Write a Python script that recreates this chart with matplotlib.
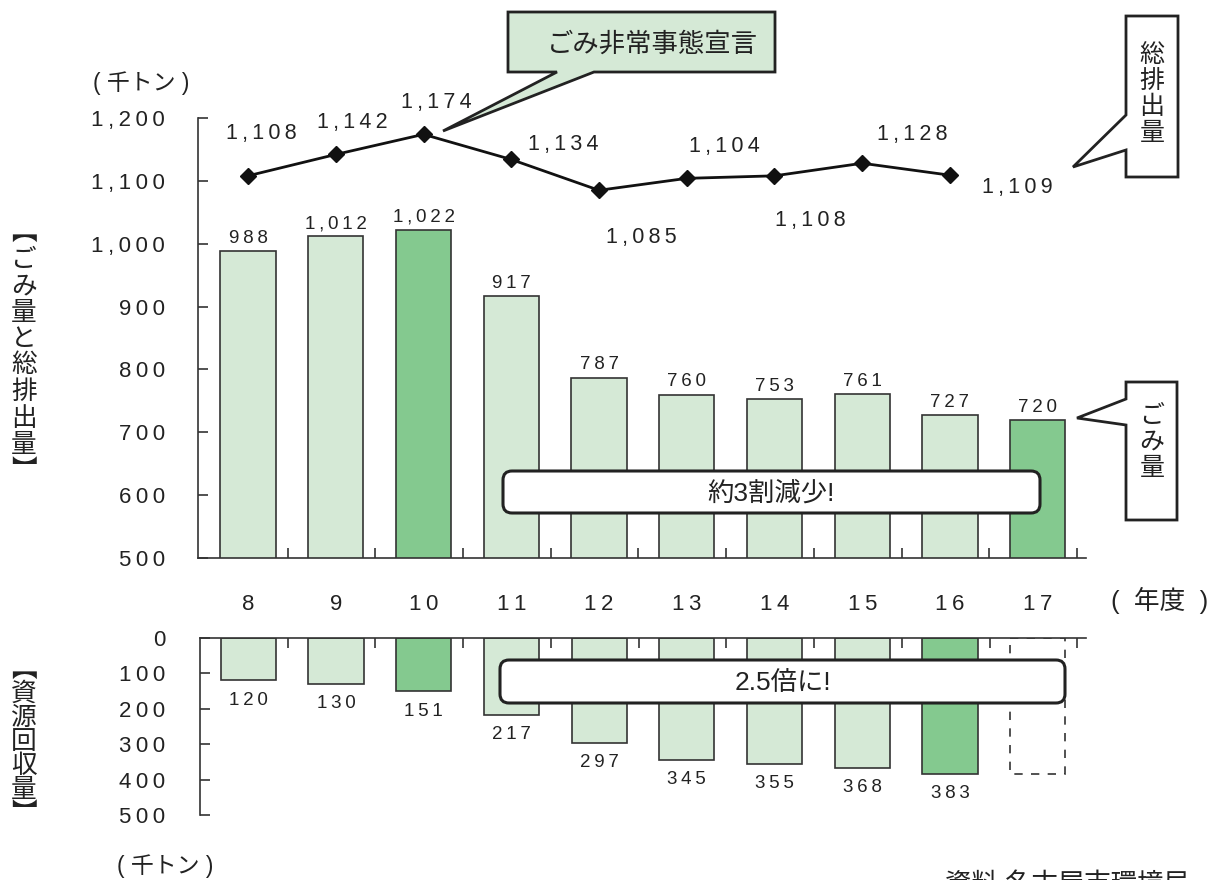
import matplotlib
matplotlib.use("Agg")
import matplotlib.pyplot as plt
import matplotlib.transforms as mtransforms
from matplotlib.patches import Polygon, FancyBboxPatch
from matplotlib.ticker import FixedLocator

plt.rcParams['font.family'] = ['Liberation Sans', 'Noto Sans CJK JP', 'DejaVu Sans']

# data (千トン)
years = [8, 9, 10, 11, 12, 13, 14, 15, 16, 17]
gomi = [988, 1012, 1022, 917, 787, 760, 753, 761, 727, 720]
line_years = [8, 9, 10, 11, 12, 13, 14, 15, 16]
total = [1108, 1142, 1174, 1134, 1085, 1104, 1108, 1128, 1109]
recycle_years = [8, 9, 10, 11, 12, 13, 14, 15, 16]
recycle = [120, 130, 151, 217, 297, 345, 355, 368, 383]
top_ticks = [500, 600, 700, 800, 900, 1000, 1100, 1200]
bot_ticks = [0, 100, 200, 300, 400, 500]

# label offsets for the line (pixels, dx right, dy down)
line_off = [(13, -42), (17, -32), (13, -32), (52, -15), (42, 47),
            (38, -32), (36, 45), (50, -29), (67, 12)]

light = '#d5e9d6'
dark = '#84c98f'
edge = '#333333'
ink = '#222222'

W, H = 1219, 880
fig = plt.figure(figsize=(W / 100, H / 100), dpi=100)
px = mtransforms.Affine2D().scale(0.01, -0.01).translate(0, H / 100) + fig.dpi_scale_trans


def sp(s):
    # wide letter spacing like the original
    return '\u2009'.join(s)


def num(v):
    return sp(f'{v:,}')


def vtext(x, y0, s, step, size):
    # vertical writing, one character per row
    for i, ch in enumerate(s):
        fig.text(x, y0 + i * step, ch, transform=px, ha='center', va='center',
                 fontsize=size, color=ink, zorder=7)


ax1 = fig.add_axes([198 / W, 1 - 558 / H, (1086 - 198) / W, (558 - 118) / H])
ax2 = fig.add_axes([200 / W, 1 - 815 / H, (1086 - 200) / W, (815 - 638) / H])

# --- top: ごみ量 bars + 総排出量 line
cols = [dark if y in (10, 17) else light for y in years]
ax1.bar(years, gomi, width=0.63, color=cols, edgecolor=edge, linewidth=1.2)
for y, v in zip(years, gomi):
    ax1.annotate(num(v), (y, v), xytext=(0, 3), textcoords='offset points',
                 ha='center', va='bottom', fontsize=13.5, color=ink)

ax1.plot(line_years, total, color='#111111', lw=2, marker='D', ms=8, zorder=4)
for y, v, (dx, dy) in zip(line_years, total, line_off):
    ax1.annotate(num(v), (y, v), xytext=(dx * 0.72, -dy * 0.72), textcoords='offset points',
                 ha='center', va='center', fontsize=15.5, color=ink)

ax1.set_xlim(7.43, 17.55)
ax1.set_ylim(500, 1200)
ax1.spines[['top', 'right']].set_visible(False)
ax1.spines[['left', 'bottom']].set_color(edge)
ax1.spines[['left', 'bottom']].set_linewidth(1.2)
ax1.set_yticks(top_ticks)
ax1.set_yticklabels([num(t) for t in top_ticks])
ax1.tick_params(axis='y', direction='in', length=7, width=1.2, color=edge, pad=24,
                labelsize=16, labelcolor=ink)
ax1.set_xticks(years)
ax1.set_xticklabels([sp(str(y)) for y in years])
ax1.tick_params(axis='x', which='major', length=0, pad=26, labelsize=16, labelcolor=ink)
ax1.xaxis.set_minor_locator(FixedLocator([y + 0.45 for y in years]))
ax1.tick_params(axis='x', which='minor', direction='in', length=7, width=1.2, color=edge)

# --- bottom: 資源回収量 (downward)
cols2 = [dark if y in (10, 16) else light for y in recycle_years]
ax2.bar(recycle_years, recycle, width=0.63, color=cols2, edgecolor=edge, linewidth=1.2)
for y, v in zip(recycle_years, recycle):
    ax2.annotate(sp(str(v)), (y, v), xytext=(0, -8), textcoords='offset points',
                 ha='center', va='top', fontsize=13.5, color=ink)
# 17年度 placeholder (no data yet)
ax2.bar([17], [recycle[-1]], width=0.63, fill=False, edgecolor=edge, linewidth=1.2,
        linestyle=(0, (5, 5)))

ax2.set_xlim(7.45, 17.55)
ax2.set_ylim(500, 0)
ax2.spines[['bottom', 'right']].set_visible(False)
ax2.spines[['left', 'top']].set_color(edge)
ax2.spines[['left', 'top']].set_linewidth(1.2)
ax2.set_yticks(bot_ticks)
ax2.set_yticklabels([sp(str(t)) for t in bot_ticks])
ax2.tick_params(axis='y', direction='in', length=7, width=1.2, color=edge, pad=25,
                labelsize=16, labelcolor=ink)
ax2.set_xticks([])
ax2.xaxis.set_minor_locator(FixedLocator([y + 0.45 for y in years]))
ax2.tick_params(axis='x', which='minor', direction='in', length=7, width=1.2, color=edge,
                top=True, bottom=False)


# --- annotations (pixel layout)
def callout(pts, fc):
    fig.add_artist(Polygon(pts, closed=True, transform=px, facecolor=fc, edgecolor=ink,
                           linewidth=2, zorder=6))


callout([(508, 12), (775, 12), (775, 72), (594, 72), (443, 131), (557, 72), (508, 72)], light)
fig.text(652, 44, 'ごみ非常事態宣言', transform=px, ha='center', va='center',
         fontsize=19, color=ink, zorder=7)

callout([(1126, 16), (1178, 16), (1178, 177), (1126, 177), (1126, 150), (1073, 167),
         (1126, 115)], 'white')
vtext(1152, 55, '総排出量', 26, 18)

callout([(1126, 382), (1177, 382), (1177, 520), (1126, 520), (1126, 425), (1077, 418),
         (1126, 399)], 'white')
vtext(1152, 416, 'ごみ量', 26, 18)

for x0, y0, x1, y1, s in [(503, 471, 1040, 513, '約3割減少!'), (500, 660, 1065, 703, '2.5倍に!')]:
    fig.add_artist(FancyBboxPatch((x0, y0), x1 - x0, y1 - y0, transform=px,
                                  boxstyle='round,pad=0,rounding_size=9', facecolor='white',
                                  edgecolor=ink, linewidth=2.2, zorder=6))
    fig.text((x0 + x1) / 2, (y0 + y1) / 2 + 1, s, transform=px, ha='center', va='center',
             fontsize=19, color=ink, zorder=7)

fig.text(141, 83, '( 千トン )', transform=px, ha='center', va='center', fontsize=16.5, color=ink)
fig.text(165, 866, '( 千トン )', transform=px, ha='center', va='center', fontsize=16.5, color=ink)
fig.text(1160, 600, '(  年度  )', transform=px, ha='center', va='center', fontsize=18.5, color=ink)
fig.text(945, 872, '資料 名古屋市環境局', transform=px, ha='left', va='top', fontsize=19, color=ink)

vtext(24, 233, '︻ごみ量と総排出量︼', 26.5, 18.5)
vtext(24, 670, '︻資源回収量︼', 24, 18.5)

fig.savefig('out.png', dpi=100)
